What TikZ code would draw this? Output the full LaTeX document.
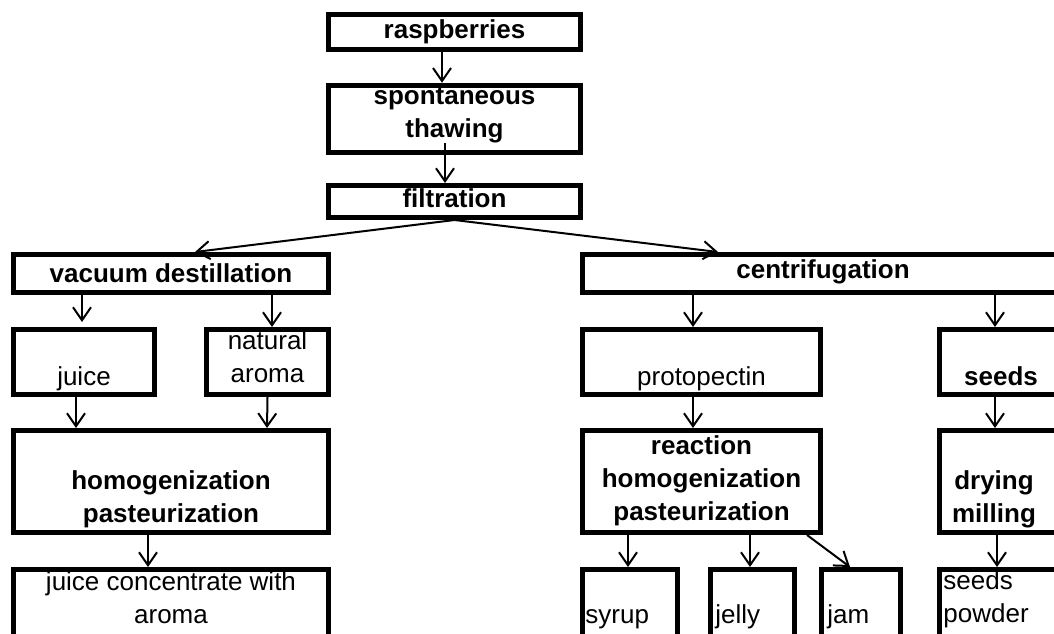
\documentclass[tikz,border=0pt]{standalone}
\usepackage{fontspec}
\setmainfont{Liberation Sans}
\usetikzlibrary{arrows.meta,calc}
\tikzset{
  box/.style={draw, line width=2.5pt, inner sep=0pt},
  txt/.style={inner sep=0pt, font=\fontsize{13}{16.5}\selectfont, align=center},
  btxt/.style={txt, font=\fontsize{13}{16.5}\selectfont\bfseries},
  arr/.style={line width=1pt, -{Straight Barb[length=6.5pt,width=9pt]}}
}
\begin{document}
\begin{tikzpicture}[x=0.5pt,y=-0.5pt]
    \useasboundingbox (0,0) rectangle (1054,633);
    \clip (0,0) rectangle (1054,633);

    % Top chain
    \node[box, minimum width=126pt, minimum height=17.5pt] (rasp) at (454.5,31.5) {};
    \node[box, minimum width=126pt, minimum height=33.75pt] (thaw) at (454.5,119) {};
    \node[box, minimum width=126pt, minimum height=16pt] (filt) at (454.5,201.5) {};
    \node[btxt, anchor=base] (rasp-t) at (454.5,38) {raspberries};
    \node[btxt, anchor=base] (thaw-t) at (454.5,137) {spontaneous\\thawing};
    \node[btxt, anchor=base] (filt-t) at (454.5,207) {filtration};

    % Left branch
    \node[box, minimum width=157.25pt, minimum height=19pt] (vac) at (171,273.5) {};
    \node[box, minimum width=70.25pt, minimum height=32.5pt] (juice) at (84,362) {};
    \node[box, minimum width=61pt, minimum height=32.5pt] (aroma) at (267.5,362) {};
    \node[box, minimum width=157.25pt, minimum height=51pt] (homog) at (171,481.5) {};
    \node[box, minimum width=157.25pt, minimum height=65pt] (conc) at (171,634.5) {};
    \node[btxt, anchor=base] (vac-t) at (171,282) {vacuum destillation};
    \node[txt, anchor=base] (juice-t) at (84,385) {juice};
    \node[txt, anchor=base] (aroma-t) at (267.5,382) {natural\\aroma};
    \node[btxt, anchor=base] (homog-t) at (171,522) {homogenization\\pasteurization};
    \node[txt, anchor=base] (conc-t) at (171,623) {juice concentrate with\\aroma};

    % Right branch
    \node[box, minimum width=240.5pt, minimum height=19pt] (centr) at (823,273.5) {};
    \node[box, minimum width=119pt, minimum height=32.5pt] (proto) at (701.5,362) {};
    \node[box, minimum width=61.5pt, minimum height=32.5pt] (seeds) at (1001,362) {};
    \node[box, minimum width=119pt, minimum height=51pt] (react) at (701.5,481.5) {};
    \node[box, minimum width=61.5pt, minimum height=51pt] (dry) at (1001,481.5) {};
    \node[box, minimum width=47.5pt, minimum height=65pt] (syrup) at (630,634.5) {};
    \node[box, minimum width=42pt, minimum height=65pt] (jelly) at (752.5,634.5) {};
    \node[box, minimum width=39.5pt, minimum height=65pt] (jam) at (861,634.5) {};
    \node[box, minimum width=61.5pt, minimum height=65pt] (powder) at (1001,634.5) {};
    \node[btxt, anchor=base] (centr-t) at (823,278) {centrifugation};
    \node[txt, anchor=base] (proto-t) at (701.5,385) {protopectin};
    \node[btxt, anchor=base] (seeds-t) at (1001,385) {seeds};
    \node[btxt, anchor=base] (react-t) at (701.5,520) {reaction\\homogenization\\pasteurization};
    \node[btxt, anchor=base] (dry-t) at (994,522) {drying\\milling};
    \node[txt, anchor=base west] (syrup-t) at (585,623) {syrup};
    \node[txt, anchor=base west] (jelly-t) at (715,623) {jelly};
    \node[txt, anchor=base west] (jam-t) at (827,623) {jam};
    \node[txt, anchor=base west, align=left] (powder-t) at (943,622) {seeds\\powder};

    % Arrows
    \draw[arr] ($(rasp.south)+(-12.5,0)$) -- ($(thaw.north)+(-12.5,0)$);
    \draw[arr] ($(thaw.south)+(-9.5,-12)$) -- ($(filt.north)+(-9.5,0)$);
    \draw[arr] (filt.south) -- ($(vac.north)+(24,0)$);
    \draw[arr] (filt.south) -- ($(centr.north)+(-105,0)$);
    \draw[arr] ($(vac.south)+(-89,-2)$) -- ($(juice.north)+(-2,-5)$);
    \draw[arr] ($(vac.south)+(101,0)$) -- ($(aroma.north)+(4.5,0)$);
    \draw[arr] ($(juice.south)+(-8,0)$) -- ($(homog.north)+(-95,0)$);
    \draw[arr] (aroma.south) -- ($(homog.north)+(96,0)$);
    \draw[arr] ($(homog.south)+(-23,0)$) -- ($(conc.north)+(-23,0)$);
    \draw[arr] ($(centr.south)+(-130,0)$) -- ($(proto.north)+(-8.5,0)$);
    \draw[arr] ($(centr.south)+(172,0)$) -- ($(seeds.north)+(-6,0)$);
    \draw[arr] ($(proto.south)+(-8.5,0)$) -- ($(react.north)+(-8.5,0)$);
    \draw[arr] ($(seeds.south)+(-6,0)$) -- ($(dry.north)+(-6,0)$);
    \draw[arr] ($(react.south)+(-73.5,0)$) -- ($(syrup.north)+(-2,0)$);
    \draw[arr] ($(react.south)+(48.5,0)$) -- ($(jelly.north)+(-2.5,0)$);
    \draw[arr] ($(react.south)+(105.5,0)$) -- ($(jam.north)+(-11,0)$);
    \draw[arr] ($(dry.south)+(-4,0)$) -- ($(powder.north)+(-4,0)$);
\end{tikzpicture}
\end{document}
